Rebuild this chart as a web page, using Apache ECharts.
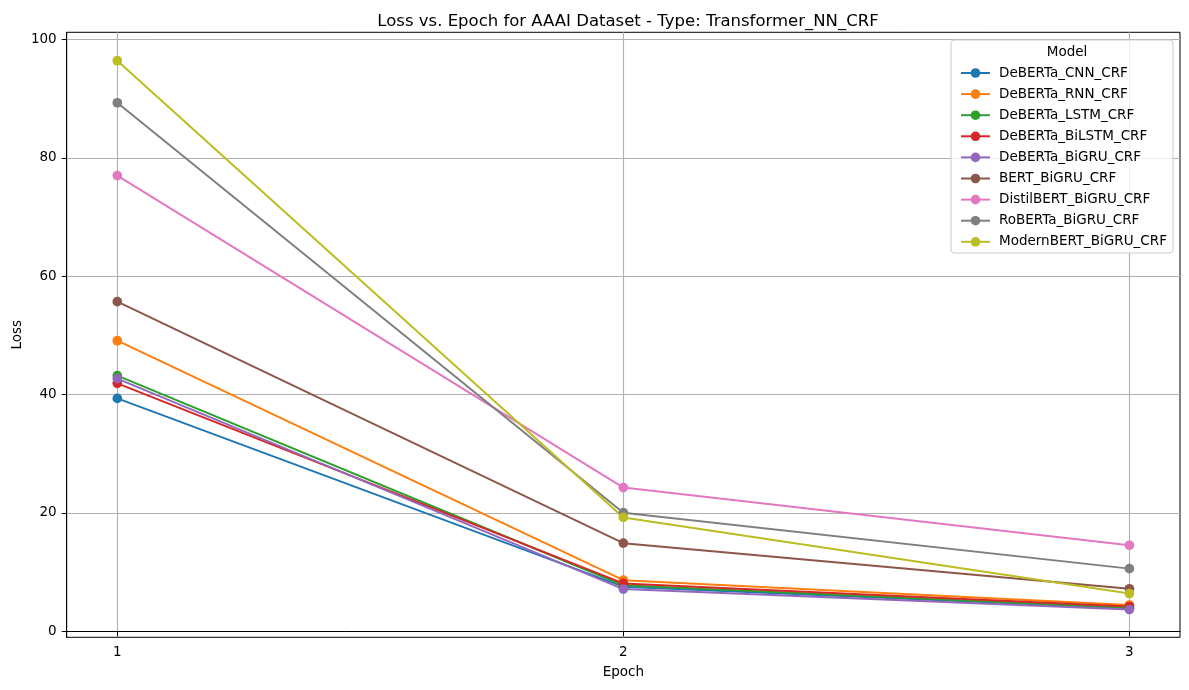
<!DOCTYPE html>
<html>
<head>
<meta charset="utf-8">
<script src="https://cdn.jsdelivr.net/npm/echarts@6/dist/echarts.min.js"></script>
<style>html,body{margin:0;padding:0;background:#fff;}#c{width:1189px;height:690px;}</style>
</head>
<body>
<div id="c"></div>
<script>
const epochs = [1, 2, 3];
const modelNames = ['DeBERTa_CNN_CRF','DeBERTa_RNN_CRF','DeBERTa_LSTM_CRF','DeBERTa_BiLSTM_CRF','DeBERTa_BiGRU_CRF','BERT_BiGRU_CRF','DistilBERT_BiGRU_CRF','RoBERTa_BiGRU_CRF','ModernBERT_BiGRU_CRF'];
const cnnLoss = [39.35, 7.55, 3.9];
const rnnLoss = [49.1, 8.65, 4.45];
const lstmLoss = [43.2, 7.8, 4.0];
const bilstmLoss = [41.9, 8.1, 4.2];
const bigruLoss = [42.7, 7.15, 3.7];
const bertLoss = [55.7, 14.9, 7.2];
const distilLoss = [77.0, 24.3, 14.55];
const robertaLoss = [89.3, 20.05, 10.6];
const modernLoss = [96.4, 19.25, 6.4];
const xTicks = [1, 2, 3];
const yTicks = [0, 20, 40, 60, 80, 100];

const seriesValues = [cnnLoss, rnnLoss, lstmLoss, bilstmLoss, bigruLoss, bertLoss, distilLoss, robertaLoss, modernLoss];
const colors = ['#1f77b4','#ff7f0e','#2ca02c','#d62728','#9467bd','#8c564b','#e377c2','#7f7f7f','#bcbd22'];
const FONT = 'DejaVu Sans';

const chart = echarts.init(document.getElementById('c'), null, {renderer: 'canvas'});
const series = modelNames.map((name, i) => ({
  name: name,
  type: 'line',
  data: epochs.map((e, j) => [e, seriesValues[i][j]]),
  symbol: 'circle',
  symbolSize: 9.7,
  color: colors[i],
  lineStyle: {width: 2, color: colors[i]},
  itemStyle: {color: colors[i]},
  emphasis: {disabled: true},
  animation: false
}));

chart.setOption({
  animation: false,
  backgroundColor: '#fff',
  title: [{
    text: 'Loss vs. Epoch for AAAI Dataset - Type: Transformer_NN_CRF',
    left: 623, top: 8, textAlign: 'center',
    textStyle: {fontFamily: FONT, fontSize: 16.5, fontWeight: 'normal', color: '#000'}
  }, {
    text: 'Model',
    left: 1062, top: 40, textAlign: 'center', z: 40,
    textStyle: {fontFamily: FONT, fontSize: 13.5, fontWeight: 'normal', color: '#000'}
  }],
  graphic: [{
    type: 'rect',
    shape: {x: 951, y: 40, width: 222, height: 213, r: 3},
    style: {fill: 'rgba(255,255,255,0.8)', stroke: '#cccccc', lineWidth: 1},
    z: 10
  }],
  legend: {
    orient: 'vertical',
    left: 955, top: 61,
    itemWidth: 29, itemHeight: 12,
    itemGap: 7.1,
    textStyle: {fontFamily: FONT, fontSize: 13.5, color: '#000', padding: [0,0,0,4], lineHeight: 12},
    data: modelNames,
    z: 20
  },
  grid: {
    left: 66.7, right: 9, top: 32.3, bottom: 52.7,
    outerBoundsMode: 'none', containLabel: false,
    show: true, borderColor: '#000', borderWidth: 1, backgroundColor: 'transparent'
  },
  xAxis: {
    type: 'value', min: 0.9, max: 3.1,
    name: 'Epoch', nameLocation: 'middle', nameGap: 28, nameMoveOverlap: false,
    nameTextStyle: {fontFamily: FONT, fontSize: 13.5, color: '#000'},
    axisLine: {show: true, lineStyle: {color: '#000', width: 1}},
    axisTick: {show: true, customValues: xTicks, length: 5, lineStyle: {color: '#000'}},
    axisLabel: {customValues: xTicks, fontFamily: FONT, fontSize: 13.5, color: '#000', margin: 8},
    splitLine: {show: true, lineStyle: {color: '#b0b0b0', width: 1.1}}
  },
  yAxis: {
    type: 'value', min: -1.0, max: 101.2,
    name: 'Loss', nameLocation: 'middle', nameGap: 42, nameRotate: 90, nameMoveOverlap: false,
    nameTextStyle: {fontFamily: FONT, fontSize: 13.5, color: '#000'},
    axisLine: {show: true, lineStyle: {color: '#000', width: 1}},
    axisTick: {show: true, customValues: yTicks, length: 5, lineStyle: {color: '#000'}},
    axisLabel: {customValues: yTicks, fontFamily: FONT, fontSize: 13.5, color: '#000', margin: 10},
    splitLine: {show: true, lineStyle: {color: '#b0b0b0', width: 1.1}}
  },
  series: series
});
</script>
</body>
</html>
